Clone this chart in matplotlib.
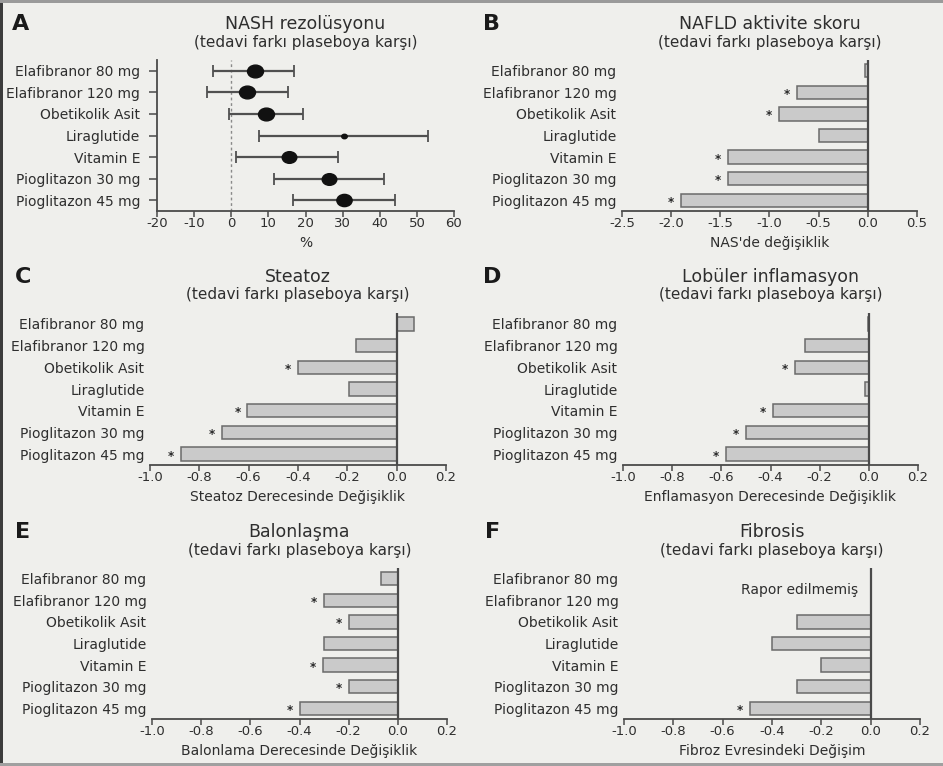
import matplotlib
matplotlib.use("Agg")
import matplotlib.pyplot as plt
from matplotlib.path import Path
from matplotlib.transforms import Affine2D
from matplotlib.patches import Rectangle

plt.rcParams['font.family'] = ['DejaVu Sans']
plt.rcParams['axes.unicode_minus'] = False

# ---------------- data ----------------
categories = ["Elafibranor 80 mg", "Elafibranor 120 mg", "Obetikolik Asit",
              "Liraglutide", "Vitamin E", "Pioglitazon 30 mg", "Pioglitazon 45 mg"]

# A: NASH resolution (%), point estimate with CI
nash_mid = [6.3, 4.2, 9.4, 30.3, 15.5, 26.3, 30.5]
nash_lo = [-5.0, -6.4, -0.6, 7.6, 1.4, 11.6, 16.5]
nash_hi = [16.8, 15.2, 19.2, 53.1, 28.8, 41.2, 44.1]

# B: NAS change
nas_change = [-0.03, -0.72, -0.90, -0.50, -1.42, -1.42, -1.90]
nas_sig = [0, 1, 1, 0, 1, 1, 1]
# C: steatosis
steatoz_change = [0.07, -0.165, -0.40, -0.195, -0.605, -0.71, -0.875]
steatoz_sig = [0, 0, 1, 0, 1, 1, 1]
# D: lobular inflammation
inflam_change = [-0.005, -0.26, -0.30, -0.015, -0.39, -0.50, -0.58]
inflam_sig = [0, 0, 1, 0, 1, 1, 1]
# E: ballooning
balon_change = [-0.07, -0.30, -0.20, -0.30, -0.305, -0.20, -0.40]
balon_sig = [0, 1, 1, 0, 1, 1, 1]
# F: fibrosis (None = not reported)
fibroz_change = [None, None, -0.30, -0.40, -0.20, -0.30, -0.49]
fibroz_sig = [0, 0, 0, 0, 0, 0, 1]

subtitle = "(tedavi farkı plaseboya karşı)"

# ---------------- style ----------------
W, H = 943, 766
BG = '#efefec'
TXT = '#2e2e2e'
AX = '#4a4a4a'
BAR = '#cacaca'
BAR_EDGE = '#6a6a6a'

fig = plt.figure(figsize=(W / 100, H / 100), dpi=100)
fig.patch.set_facecolor(BG)


def pos(l, t, r, b):
    return [l / W, 1 - b / H, (r - l) / W, (b - t) / H]


def header(ax_box, letter_x, letter, title):
    l, t, r, b = ax_box
    cx = (l + r) / 2 / W
    fig.text(letter_x / W, 1 - (t - 36) / H, letter, fontsize=16, fontweight='bold',
             color='#1a1a1a', ha='left', va='center')
    fig.text(cx, 1 - (t - 36) / H, title, fontsize=12.5, color=TXT, ha='center', va='center')
    fig.text(cx, 1 - (t - 18) / H, subtitle, fontsize=11, color=TXT, ha='center', va='center')


def xlabel(ax_box, text):
    l, t, r, b = ax_box
    fig.text((l + r) / 2 / W, 1 - (b + 32) / H, text, fontsize=10, color=TXT,
             ha='center', va='center')


def fmt_tick(t, fmt):
    if abs(t) < 1e-9:
        t = 0.0
    return fmt.format(t)


def common(ax, lo, hi, step, fmt):
    ax.set_facecolor('none')
    ax.set_xlim(lo, hi)
    n = int(round((hi - lo) / step))
    ticks = [round(lo + k * step, 6) for k in range(n + 1)]
    ax.set_xticks(ticks)
    ax.set_xticklabels([fmt_tick(t, fmt) for t in ticks])
    ax.set_ylim(6.5, -0.5)
    ax.set_yticks(range(len(categories)))
    ax.set_yticklabels(categories)
    for s in ['top', 'right']:
        ax.spines[s].set_visible(False)
    ax.spines['bottom'].set_color(AX)
    ax.spines['bottom'].set_linewidth(1.3)
    ax.tick_params(axis='x', direction='out', length=4, width=1.1, color=AX,
                   labelsize=9.5, labelcolor=TXT, pad=0.5)
    ax.tick_params(axis='y', labelsize=10, labelcolor=TXT)


# ---------------- Panel A ----------------
boxA = (157, 60, 454, 211)
axA = fig.add_axes(pos(*boxA))
common(axA, -20, 60, 10, "{:.0f}")
axA.spines['left'].set_color(AX)
axA.spines['left'].set_linewidth(1.3)
axA.tick_params(axis='y', direction='out', length=6, width=1.1, color=AX, pad=6)
axA.axvline(0, color='#8a8a8a', lw=1, ls=(0, (2, 2)), zorder=1)
ell = Path.unit_circle().transformed(Affine2D().scale(1.25, 1.0))
marker_sizes = [11.5, 11.5, 11.5, 4, 10.5, 10.5, 11]
for i, (m, lo, hi) in enumerate(zip(nash_mid, nash_lo, nash_hi)):
    axA.errorbar([m], [i], xerr=[[m - lo], [hi - m]], fmt='none', ecolor='#505050',
                 elinewidth=1.6, capsize=4, capthick=1.3, zorder=2)
    axA.plot([m], [i], marker=ell, ms=marker_sizes[i], color='#111111', ls='none', zorder=3)
header(boxA, 12, "A", "NASH rezolüsyonu")
xlabel(boxA, "%")


# ---------------- bar panels ----------------
def bar_panel(box, letter_x, letter, title, vals, sig, lo, hi, step, label):
    ax = fig.add_axes(pos(*box))
    common(ax, lo, hi, step, "{:.1f}")
    ax.spines['left'].set_visible(False)
    ax.tick_params(axis='y', length=0, pad=4)
    ys = [i for i, v in enumerate(vals) if v is not None]
    vs = [v for v in vals if v is not None]
    ax.barh(ys, vs, height=0.62, color=BAR, edgecolor=BAR_EDGE, linewidth=1.1, zorder=2)
    ax.axvline(0, color=AX, lw=1.6, zorder=3)
    for i, v in enumerate(vals):
        if v is not None and sig[i]:
            ax.annotate('*', xy=(min(v, 0), i), xytext=(-10, -2), textcoords='offset pixels',
                        ha='center', va='center', fontsize=8.5, fontweight='bold',
                        color='#2a2a2a')
    header(box, letter_x, letter, title)
    xlabel(box, label)
    return ax


bar_panel((622, 60, 917, 211), 483, "B", "NAFLD aktivite skoru", nas_change, nas_sig,
          -2.5, 0.5, 0.5, "NAS'de değişiklik")
bar_panel((150, 313, 446, 465), 15, "C", "Steatoz", steatoz_change, steatoz_sig,
          -1.0, 0.2, 0.2, "Steatoz Derecesinde Değişiklik")
bar_panel((623, 313, 918, 465), 483, "D", "Lobüler inflamasyon", inflam_change, inflam_sig,
          -1.0, 0.2, 0.2, "Enflamasyon Derecesinde Değişiklik")
bar_panel((152, 568, 447, 719), 15, "E", "Balonlaşma", balon_change, balon_sig,
          -1.0, 0.2, 0.2, "Balonlama Derecesinde Değişiklik")
axF = bar_panel((624, 568, 920, 719), 485, "F", "Fibrosis", fibroz_change, fibroz_sig,
                -1.0, 0.2, 0.2, "Fibroz Evresindeki Değişim")
axF.text(-0.29, 0.5, "Rapor edilmemiş", ha='center', va='center', fontsize=10, color=TXT)

# ---------------- frame ----------------
fig.patches.append(Rectangle((0, 0), 3 / W, 1, transform=fig.transFigure,
                             facecolor='#3c3c3c', edgecolor='none'))
fig.patches.append(Rectangle((0, 1 - 2.5 / H), 1, 2.5 / H, transform=fig.transFigure,
                             facecolor='#9a9a9a', edgecolor='none'))
fig.patches.append(Rectangle((0, 0), 1, 3 / H, transform=fig.transFigure,
                             facecolor='#a0a0a0', edgecolor='none'))

fig.savefig("out.png", dpi=100, facecolor=BG)
